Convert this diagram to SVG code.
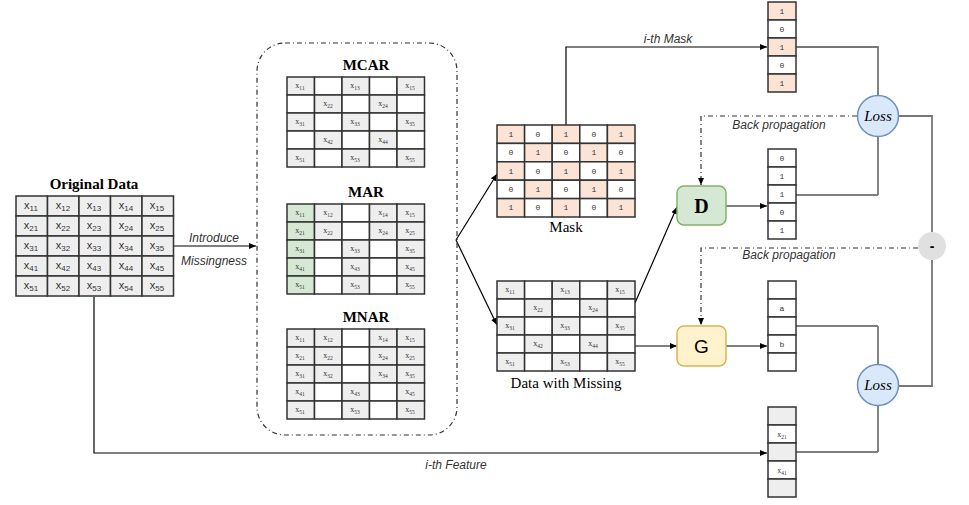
<svg xmlns="http://www.w3.org/2000/svg" width="969" height="505" viewBox="0 0 969 505">
<defs>
<marker id="ah" markerWidth="8" markerHeight="8" refX="7" refY="4" orient="auto" markerUnits="userSpaceOnUse"><path d="M0,1 L7,4 L0,7 Z" fill="#000"/></marker>
<style>
.c{fill:#eeeeee;stroke:#333;stroke-width:1.5}
.e{fill:#ffffff;stroke:#333;stroke-width:1.5}
.g{fill:#d5e8d4;stroke:#333;stroke-width:1.5}
.p{fill:#fbe3d6;stroke:#333;stroke-width:1.5}
.big{font-family:"Liberation Sans",Arial,sans-serif;font-size:11px;fill:#333;text-anchor:middle}
.sm{font-family:"Liberation Serif","Times New Roman",serif;font-size:8px;fill:#333;text-anchor:middle}
.dg{font-family:"Liberation Mono","Courier New",monospace;font-size:8px;fill:#333;text-anchor:middle}
.ttl{font-family:"Liberation Serif","Times New Roman",serif;font-size:15px;font-weight:bold;fill:#000;text-anchor:middle}
.cap{font-family:"Liberation Serif","Times New Roman",serif;font-size:15px;fill:#000;text-anchor:middle}
.lbl{font-family:"Liberation Sans",Arial,sans-serif;font-size:12px;font-style:italic;fill:#333;text-anchor:middle}
.ln{fill:none;stroke:#000;stroke-width:1.2}
.gl{fill:none;stroke:#777;stroke-width:1.8}
.dd{fill:none;stroke:#333;stroke-width:1.2;stroke-dasharray:5 3 1 3}
.loss{fill:#dae8fc;stroke:#6c8ebf;stroke-width:1.5}
.lt{font-family:"Liberation Serif","Times New Roman",serif;font-size:15px;font-style:italic;fill:#000;text-anchor:middle}
</style>
</defs>

<g id="connectors">
<line class="ln" x1="173" y1="246" x2="256" y2="246" marker-end="url(#ah)"/>
<line class="ln" x1="456" y1="240" x2="497" y2="174" marker-end="url(#ah)"/>
<line class="ln" x1="456" y1="240" x2="497" y2="325" marker-end="url(#ah)"/>
<path class="ln" d="M566,125 V47 H767" marker-end="url(#ah)"/>
<line class="ln" x1="635" y1="303" x2="677" y2="207" marker-end="url(#ah)"/>
<line class="ln" x1="635" y1="346" x2="677" y2="346" marker-end="url(#ah)"/>
<line class="ln" x1="726" y1="206" x2="767" y2="206" marker-end="url(#ah)"/>
<line class="ln" x1="726" y1="346" x2="767" y2="346" marker-end="url(#ah)"/>
<path class="ln" d="M94,297 V453 H767" marker-end="url(#ah)"/>
<path class="gl" d="M796,47 H878 V96"/>
<path class="ln" d="M796,195 H878"/>
<path class="gl" d="M878,195 V137"/>
<path class="gl" d="M899,116 H932 V232"/>
<path class="gl" d="M899,386 H932 V260"/>
<path class="ln" d="M796,326 H878"/>
<path class="gl" d="M878,326 V364"/>
<path class="ln" d="M796,452 H878"/>
<path class="gl" d="M878,452 V406"/>
<path class="dd" d="M857,116 H701 V185" marker-end="url(#ah)"/>
<path class="dd" d="M918,248 H701 V325" marker-end="url(#ah)"/>
<text class="lbl" x="214" y="242">Introduce</text>
<text class="lbl" x="214" y="265">Missingness</text>
<text class="lbl" x="668" y="43">i-th Mask</text>
<text class="lbl" x="456" y="469">i-th Feature</text>
<text class="lbl" x="779" y="129">Back propagation</text>
<text class="lbl" x="789" y="259">Back propagation</text>
</g>

<g id="original-data">
<text class="ttl" x="94" y="189">Original Data</text>
<rect class="c" x="16" y="196" width="31.5" height="20"/><rect class="c" x="47.5" y="196" width="31.5" height="20"/><rect class="c" x="79" y="196" width="31.5" height="20"/><rect class="c" x="110.5" y="196" width="31.5" height="20"/><rect class="c" x="142" y="196" width="31.5" height="20"/>
<rect class="c" x="16" y="216" width="31.5" height="20"/><rect class="c" x="47.5" y="216" width="31.5" height="20"/><rect class="c" x="79" y="216" width="31.5" height="20"/><rect class="c" x="110.5" y="216" width="31.5" height="20"/><rect class="c" x="142" y="216" width="31.5" height="20"/>
<rect class="c" x="16" y="236" width="31.5" height="20"/><rect class="c" x="47.5" y="236" width="31.5" height="20"/><rect class="c" x="79" y="236" width="31.5" height="20"/><rect class="c" x="110.5" y="236" width="31.5" height="20"/><rect class="c" x="142" y="236" width="31.5" height="20"/>
<rect class="c" x="16" y="256" width="31.5" height="20"/><rect class="c" x="47.5" y="256" width="31.5" height="20"/><rect class="c" x="79" y="256" width="31.5" height="20"/><rect class="c" x="110.5" y="256" width="31.5" height="20"/><rect class="c" x="142" y="256" width="31.5" height="20"/>
<rect class="c" x="16" y="276" width="31.5" height="20"/><rect class="c" x="47.5" y="276" width="31.5" height="20"/><rect class="c" x="79" y="276" width="31.5" height="20"/><rect class="c" x="110.5" y="276" width="31.5" height="20"/><rect class="c" x="142" y="276" width="31.5" height="20"/>
<text class="big" x="31" y="209">x<tspan font-size="8" dy="2">11</tspan></text><text class="big" x="63" y="209">x<tspan font-size="8" dy="2">12</tspan></text><text class="big" x="94" y="209">x<tspan font-size="8" dy="2">13</tspan></text><text class="big" x="126" y="209">x<tspan font-size="8" dy="2">14</tspan></text><text class="big" x="157" y="209">x<tspan font-size="8" dy="2">15</tspan></text>
<text class="big" x="31" y="229">x<tspan font-size="8" dy="2">21</tspan></text><text class="big" x="63" y="229">x<tspan font-size="8" dy="2">22</tspan></text><text class="big" x="94" y="229">x<tspan font-size="8" dy="2">23</tspan></text><text class="big" x="126" y="229">x<tspan font-size="8" dy="2">24</tspan></text><text class="big" x="157" y="229">x<tspan font-size="8" dy="2">25</tspan></text>
<text class="big" x="31" y="249">x<tspan font-size="8" dy="2">31</tspan></text><text class="big" x="63" y="249">x<tspan font-size="8" dy="2">32</tspan></text><text class="big" x="94" y="249">x<tspan font-size="8" dy="2">33</tspan></text><text class="big" x="126" y="249">x<tspan font-size="8" dy="2">34</tspan></text><text class="big" x="157" y="249">x<tspan font-size="8" dy="2">35</tspan></text>
<text class="big" x="31" y="269">x<tspan font-size="8" dy="2">41</tspan></text><text class="big" x="63" y="269">x<tspan font-size="8" dy="2">42</tspan></text><text class="big" x="94" y="269">x<tspan font-size="8" dy="2">43</tspan></text><text class="big" x="126" y="269">x<tspan font-size="8" dy="2">44</tspan></text><text class="big" x="157" y="269">x<tspan font-size="8" dy="2">45</tspan></text>
<text class="big" x="31" y="289">x<tspan font-size="8" dy="2">51</tspan></text><text class="big" x="63" y="289">x<tspan font-size="8" dy="2">52</tspan></text><text class="big" x="94" y="289">x<tspan font-size="8" dy="2">53</tspan></text><text class="big" x="126" y="289">x<tspan font-size="8" dy="2">54</tspan></text><text class="big" x="157" y="289">x<tspan font-size="8" dy="2">55</tspan></text>
</g>

<g id="missingness-group">
<rect x="257" y="43" width="200" height="392" rx="28" fill="none" stroke="#333" stroke-width="1.2" stroke-dasharray="5 3 1 3"/>
</g>

<g id="mcar">
<text class="ttl" x="366" y="70">MCAR</text>
<rect class="c" x="287" y="77" width="27.5" height="18"/><rect class="e" x="314.5" y="77" width="27.5" height="18"/><rect class="c" x="342" y="77" width="27.5" height="18"/><rect class="e" x="369.5" y="77" width="27.5" height="18"/><rect class="c" x="397" y="77" width="27.5" height="18"/>
<rect class="e" x="287" y="95" width="27.5" height="18"/><rect class="c" x="314.5" y="95" width="27.5" height="18"/><rect class="e" x="342" y="95" width="27.5" height="18"/><rect class="c" x="369.5" y="95" width="27.5" height="18"/><rect class="e" x="397" y="95" width="27.5" height="18"/>
<rect class="c" x="287" y="113" width="27.5" height="18"/><rect class="e" x="314.5" y="113" width="27.5" height="18"/><rect class="c" x="342" y="113" width="27.5" height="18"/><rect class="e" x="369.5" y="113" width="27.5" height="18"/><rect class="c" x="397" y="113" width="27.5" height="18"/>
<rect class="e" x="287" y="131" width="27.5" height="18"/><rect class="c" x="314.5" y="131" width="27.5" height="18"/><rect class="e" x="342" y="131" width="27.5" height="18"/><rect class="c" x="369.5" y="131" width="27.5" height="18"/><rect class="e" x="397" y="131" width="27.5" height="18"/>
<rect class="c" x="287" y="149" width="27.5" height="18"/><rect class="e" x="314.5" y="149" width="27.5" height="18"/><rect class="c" x="342" y="149" width="27.5" height="18"/><rect class="e" x="369.5" y="149" width="27.5" height="18"/><rect class="c" x="397" y="149" width="27.5" height="18"/>
<text class="sm" x="300" y="88">x<tspan font-size="5.5" dy="1.5">11</tspan></text><text class="sm" x="355" y="88">x<tspan font-size="5.5" dy="1.5">13</tspan></text><text class="sm" x="410" y="88">x<tspan font-size="5.5" dy="1.5">15</tspan></text>
<text class="sm" x="328" y="106">x<tspan font-size="5.5" dy="1.5">22</tspan></text><text class="sm" x="383" y="106">x<tspan font-size="5.5" dy="1.5">24</tspan></text>
<text class="sm" x="300" y="124">x<tspan font-size="5.5" dy="1.5">31</tspan></text><text class="sm" x="355" y="124">x<tspan font-size="5.5" dy="1.5">33</tspan></text><text class="sm" x="410" y="124">x<tspan font-size="5.5" dy="1.5">35</tspan></text>
<text class="sm" x="328" y="142">x<tspan font-size="5.5" dy="1.5">42</tspan></text><text class="sm" x="383" y="142">x<tspan font-size="5.5" dy="1.5">44</tspan></text>
<text class="sm" x="300" y="160">x<tspan font-size="5.5" dy="1.5">51</tspan></text><text class="sm" x="355" y="160">x<tspan font-size="5.5" dy="1.5">53</tspan></text><text class="sm" x="410" y="160">x<tspan font-size="5.5" dy="1.5">55</tspan></text>
</g>

<g id="mar">
<text class="ttl" x="366" y="197">MAR</text>
<rect class="g" x="287" y="204" width="27.5" height="18"/><rect class="c" x="314.5" y="204" width="27.5" height="18"/><rect class="e" x="342" y="204" width="27.5" height="18"/><rect class="c" x="369.5" y="204" width="27.5" height="18"/><rect class="c" x="397" y="204" width="27.5" height="18"/>
<rect class="g" x="287" y="222" width="27.5" height="18"/><rect class="c" x="314.5" y="222" width="27.5" height="18"/><rect class="e" x="342" y="222" width="27.5" height="18"/><rect class="c" x="369.5" y="222" width="27.5" height="18"/><rect class="c" x="397" y="222" width="27.5" height="18"/>
<rect class="g" x="287" y="240" width="27.5" height="18"/><rect class="e" x="314.5" y="240" width="27.5" height="18"/><rect class="c" x="342" y="240" width="27.5" height="18"/><rect class="e" x="369.5" y="240" width="27.5" height="18"/><rect class="c" x="397" y="240" width="27.5" height="18"/>
<rect class="g" x="287" y="258" width="27.5" height="18"/><rect class="e" x="314.5" y="258" width="27.5" height="18"/><rect class="c" x="342" y="258" width="27.5" height="18"/><rect class="e" x="369.5" y="258" width="27.5" height="18"/><rect class="c" x="397" y="258" width="27.5" height="18"/>
<rect class="g" x="287" y="276" width="27.5" height="18"/><rect class="e" x="314.5" y="276" width="27.5" height="18"/><rect class="c" x="342" y="276" width="27.5" height="18"/><rect class="e" x="369.5" y="276" width="27.5" height="18"/><rect class="c" x="397" y="276" width="27.5" height="18"/>
<text class="sm" x="300" y="215">x<tspan font-size="5.5" dy="1.5">11</tspan></text><text class="sm" x="328" y="215">x<tspan font-size="5.5" dy="1.5">12</tspan></text><text class="sm" x="383" y="215">x<tspan font-size="5.5" dy="1.5">14</tspan></text><text class="sm" x="410" y="215">x<tspan font-size="5.5" dy="1.5">15</tspan></text>
<text class="sm" x="300" y="233">x<tspan font-size="5.5" dy="1.5">21</tspan></text><text class="sm" x="328" y="233">x<tspan font-size="5.5" dy="1.5">22</tspan></text><text class="sm" x="383" y="233">x<tspan font-size="5.5" dy="1.5">24</tspan></text><text class="sm" x="410" y="233">x<tspan font-size="5.5" dy="1.5">25</tspan></text>
<text class="sm" x="300" y="251">x<tspan font-size="5.5" dy="1.5">31</tspan></text><text class="sm" x="355" y="251">x<tspan font-size="5.5" dy="1.5">33</tspan></text><text class="sm" x="410" y="251">x<tspan font-size="5.5" dy="1.5">35</tspan></text>
<text class="sm" x="300" y="269">x<tspan font-size="5.5" dy="1.5">41</tspan></text><text class="sm" x="355" y="269">x<tspan font-size="5.5" dy="1.5">43</tspan></text><text class="sm" x="410" y="269">x<tspan font-size="5.5" dy="1.5">45</tspan></text>
<text class="sm" x="300" y="287">x<tspan font-size="5.5" dy="1.5">51</tspan></text><text class="sm" x="355" y="287">x<tspan font-size="5.5" dy="1.5">53</tspan></text><text class="sm" x="410" y="287">x<tspan font-size="5.5" dy="1.5">55</tspan></text>
</g>

<g id="mnar">
<text class="ttl" x="366" y="322">MNAR</text>
<rect class="c" x="287" y="329" width="27.5" height="18"/><rect class="c" x="314.5" y="329" width="27.5" height="18"/><rect class="e" x="342" y="329" width="27.5" height="18"/><rect class="c" x="369.5" y="329" width="27.5" height="18"/><rect class="c" x="397" y="329" width="27.5" height="18"/>
<rect class="c" x="287" y="347" width="27.5" height="18"/><rect class="c" x="314.5" y="347" width="27.5" height="18"/><rect class="e" x="342" y="347" width="27.5" height="18"/><rect class="c" x="369.5" y="347" width="27.5" height="18"/><rect class="c" x="397" y="347" width="27.5" height="18"/>
<rect class="c" x="287" y="365" width="27.5" height="18"/><rect class="c" x="314.5" y="365" width="27.5" height="18"/><rect class="e" x="342" y="365" width="27.5" height="18"/><rect class="c" x="369.5" y="365" width="27.5" height="18"/><rect class="c" x="397" y="365" width="27.5" height="18"/>
<rect class="c" x="287" y="383" width="27.5" height="18"/><rect class="e" x="314.5" y="383" width="27.5" height="18"/><rect class="c" x="342" y="383" width="27.5" height="18"/><rect class="e" x="369.5" y="383" width="27.5" height="18"/><rect class="c" x="397" y="383" width="27.5" height="18"/>
<rect class="c" x="287" y="401" width="27.5" height="18"/><rect class="e" x="314.5" y="401" width="27.5" height="18"/><rect class="c" x="342" y="401" width="27.5" height="18"/><rect class="e" x="369.5" y="401" width="27.5" height="18"/><rect class="c" x="397" y="401" width="27.5" height="18"/>
<text class="sm" x="300" y="340">x<tspan font-size="5.5" dy="1.5">11</tspan></text><text class="sm" x="328" y="340">x<tspan font-size="5.5" dy="1.5">12</tspan></text><text class="sm" x="383" y="340">x<tspan font-size="5.5" dy="1.5">14</tspan></text><text class="sm" x="410" y="340">x<tspan font-size="5.5" dy="1.5">15</tspan></text>
<text class="sm" x="300" y="358">x<tspan font-size="5.5" dy="1.5">21</tspan></text><text class="sm" x="328" y="358">x<tspan font-size="5.5" dy="1.5">22</tspan></text><text class="sm" x="383" y="358">x<tspan font-size="5.5" dy="1.5">24</tspan></text><text class="sm" x="410" y="358">x<tspan font-size="5.5" dy="1.5">25</tspan></text>
<text class="sm" x="300" y="376">x<tspan font-size="5.5" dy="1.5">31</tspan></text><text class="sm" x="328" y="376">x<tspan font-size="5.5" dy="1.5">32</tspan></text><text class="sm" x="383" y="376">x<tspan font-size="5.5" dy="1.5">34</tspan></text><text class="sm" x="410" y="376">x<tspan font-size="5.5" dy="1.5">35</tspan></text>
<text class="sm" x="300" y="394">x<tspan font-size="5.5" dy="1.5">41</tspan></text><text class="sm" x="355" y="394">x<tspan font-size="5.5" dy="1.5">43</tspan></text><text class="sm" x="410" y="394">x<tspan font-size="5.5" dy="1.5">45</tspan></text>
<text class="sm" x="300" y="412">x<tspan font-size="5.5" dy="1.5">51</tspan></text><text class="sm" x="355" y="412">x<tspan font-size="5.5" dy="1.5">53</tspan></text><text class="sm" x="410" y="412">x<tspan font-size="5.5" dy="1.5">55</tspan></text>
</g>

<g id="mask">
<rect class="p" x="497" y="125" width="27.6" height="18.4"/><rect class="e" x="524.6" y="125" width="27.6" height="18.4"/><rect class="p" x="552.2" y="125" width="27.6" height="18.4"/><rect class="e" x="579.8" y="125" width="27.6" height="18.4"/><rect class="p" x="607.4" y="125" width="27.6" height="18.4"/>
<rect class="e" x="497" y="143.4" width="27.6" height="18.4"/><rect class="p" x="524.6" y="143.4" width="27.6" height="18.4"/><rect class="e" x="552.2" y="143.4" width="27.6" height="18.4"/><rect class="p" x="579.8" y="143.4" width="27.6" height="18.4"/><rect class="e" x="607.4" y="143.4" width="27.6" height="18.4"/>
<rect class="p" x="497" y="161.8" width="27.6" height="18.4"/><rect class="e" x="524.6" y="161.8" width="27.6" height="18.4"/><rect class="p" x="552.2" y="161.8" width="27.6" height="18.4"/><rect class="e" x="579.8" y="161.8" width="27.6" height="18.4"/><rect class="p" x="607.4" y="161.8" width="27.6" height="18.4"/>
<rect class="e" x="497" y="180.2" width="27.6" height="18.4"/><rect class="p" x="524.6" y="180.2" width="27.6" height="18.4"/><rect class="e" x="552.2" y="180.2" width="27.6" height="18.4"/><rect class="p" x="579.8" y="180.2" width="27.6" height="18.4"/><rect class="e" x="607.4" y="180.2" width="27.6" height="18.4"/>
<rect class="p" x="497" y="198.6" width="27.6" height="18.4"/><rect class="e" x="524.6" y="198.6" width="27.6" height="18.4"/><rect class="p" x="552.2" y="198.6" width="27.6" height="18.4"/><rect class="e" x="579.8" y="198.6" width="27.6" height="18.4"/><rect class="p" x="607.4" y="198.6" width="27.6" height="18.4"/>
<text class="dg" x="511" y="137">1</text><text class="dg" x="538" y="137">0</text><text class="dg" x="566" y="137">1</text><text class="dg" x="594" y="137">0</text><text class="dg" x="621" y="137">1</text>
<text class="dg" x="511" y="155">0</text><text class="dg" x="538" y="155">1</text><text class="dg" x="566" y="155">0</text><text class="dg" x="594" y="155">1</text><text class="dg" x="621" y="155">0</text>
<text class="dg" x="511" y="174">1</text><text class="dg" x="538" y="174">0</text><text class="dg" x="566" y="174">1</text><text class="dg" x="594" y="174">0</text><text class="dg" x="621" y="174">1</text>
<text class="dg" x="511" y="192">0</text><text class="dg" x="538" y="192">1</text><text class="dg" x="566" y="192">0</text><text class="dg" x="594" y="192">1</text><text class="dg" x="621" y="192">0</text>
<text class="dg" x="511" y="210">1</text><text class="dg" x="538" y="210">0</text><text class="dg" x="566" y="210">1</text><text class="dg" x="594" y="210">0</text><text class="dg" x="621" y="210">1</text>
<text class="cap" x="566" y="232">Mask</text>
</g>

<g id="data-with-missing">
<rect class="c" x="497" y="281" width="27.6" height="18"/><rect class="e" x="524.6" y="281" width="27.6" height="18"/><rect class="c" x="552.2" y="281" width="27.6" height="18"/><rect class="e" x="579.8" y="281" width="27.6" height="18"/><rect class="c" x="607.4" y="281" width="27.6" height="18"/>
<rect class="e" x="497" y="299" width="27.6" height="18"/><rect class="c" x="524.6" y="299" width="27.6" height="18"/><rect class="e" x="552.2" y="299" width="27.6" height="18"/><rect class="c" x="579.8" y="299" width="27.6" height="18"/><rect class="e" x="607.4" y="299" width="27.6" height="18"/>
<rect class="c" x="497" y="317" width="27.6" height="18"/><rect class="e" x="524.6" y="317" width="27.6" height="18"/><rect class="c" x="552.2" y="317" width="27.6" height="18"/><rect class="e" x="579.8" y="317" width="27.6" height="18"/><rect class="c" x="607.4" y="317" width="27.6" height="18"/>
<rect class="e" x="497" y="335" width="27.6" height="18"/><rect class="c" x="524.6" y="335" width="27.6" height="18"/><rect class="e" x="552.2" y="335" width="27.6" height="18"/><rect class="c" x="579.8" y="335" width="27.6" height="18"/><rect class="e" x="607.4" y="335" width="27.6" height="18"/>
<rect class="c" x="497" y="353" width="27.6" height="18"/><rect class="e" x="524.6" y="353" width="27.6" height="18"/><rect class="c" x="552.2" y="353" width="27.6" height="18"/><rect class="e" x="579.8" y="353" width="27.6" height="18"/><rect class="c" x="607.4" y="353" width="27.6" height="18"/>
<text class="sm" x="510" y="292">x<tspan font-size="5.5" dy="1.5">11</tspan></text><text class="sm" x="565" y="292">x<tspan font-size="5.5" dy="1.5">13</tspan></text><text class="sm" x="620" y="292">x<tspan font-size="5.5" dy="1.5">15</tspan></text>
<text class="sm" x="538" y="310">x<tspan font-size="5.5" dy="1.5">22</tspan></text><text class="sm" x="593" y="310">x<tspan font-size="5.5" dy="1.5">24</tspan></text>
<text class="sm" x="510" y="328">x<tspan font-size="5.5" dy="1.5">31</tspan></text><text class="sm" x="565" y="328">x<tspan font-size="5.5" dy="1.5">33</tspan></text><text class="sm" x="620" y="328">x<tspan font-size="5.5" dy="1.5">35</tspan></text>
<text class="sm" x="538" y="346">x<tspan font-size="5.5" dy="1.5">42</tspan></text><text class="sm" x="593" y="346">x<tspan font-size="5.5" dy="1.5">44</tspan></text>
<text class="sm" x="510" y="364">x<tspan font-size="5.5" dy="1.5">51</tspan></text><text class="sm" x="565" y="364">x<tspan font-size="5.5" dy="1.5">53</tspan></text><text class="sm" x="620" y="364">x<tspan font-size="5.5" dy="1.5">55</tspan></text>
<text class="cap" x="566" y="388">Data with Missing</text>
</g>

<g id="mask-vector">
<rect class="p" x="768" y="2" width="28" height="18"/><rect class="e" x="768" y="20" width="28" height="18"/><rect class="p" x="768" y="38" width="28" height="18"/><rect class="e" x="768" y="56" width="28" height="18"/><rect class="p" x="768" y="74" width="28" height="18"/>
<text class="dg" x="782" y="14">1</text><text class="dg" x="782" y="32">0</text><text class="dg" x="782" y="50">1</text><text class="dg" x="782" y="68">0</text><text class="dg" x="782" y="86">1</text>
</g>

<g id="d-output">
<rect class="e" x="768" y="149" width="28" height="18"/><rect class="e" x="768" y="167" width="28" height="18"/><rect class="e" x="768" y="185" width="28" height="18"/><rect class="e" x="768" y="203" width="28" height="18"/><rect class="e" x="768" y="221" width="28" height="18"/>
<text class="dg" x="782" y="161">0</text><text class="dg" x="782" y="179">1</text><text class="dg" x="782" y="197">1</text><text class="dg" x="782" y="215">0</text><text class="dg" x="782" y="233">1</text>
</g>

<g id="g-output">
<rect class="e" x="768" y="281" width="28" height="18"/><rect class="e" x="768" y="299" width="28" height="18"/><rect class="e" x="768" y="317" width="28" height="18"/><rect class="e" x="768" y="335" width="28" height="18"/><rect class="e" x="768" y="353" width="28" height="18"/>
<text class="dg" x="782" y="311">a</text><text class="dg" x="782" y="347">b</text>
</g>

<g id="feature-vector">
<rect class="c" x="768" y="407" width="28" height="18"/><rect class="e" x="768" y="425" width="28" height="18"/><rect class="c" x="768" y="443" width="28" height="18"/><rect class="e" x="768" y="461" width="28" height="18"/><rect class="c" x="768" y="479" width="28" height="18"/>
<text class="sm" x="782" y="437">x<tspan font-size="5.5" dy="1.5">21</tspan></text><text class="sm" x="782" y="473">x<tspan font-size="5.5" dy="1.5">41</tspan></text>
</g>

<g id="D">
<rect x="677" y="186" width="49" height="39" rx="7" fill="#d5e8d4" stroke="#82b366" stroke-width="1.5"/>
<text x="701.5" y="213" font-family="Liberation Serif, Times New Roman, serif" font-size="20" font-weight="bold" text-anchor="middle">D</text>
</g>

<g id="G">
<rect x="677" y="326" width="49" height="40" rx="7" fill="#fff2cc" stroke="#d6b656" stroke-width="1.5"/>
<text x="701.5" y="353" font-family="Liberation Sans, Arial, sans-serif" font-size="19" text-anchor="middle">G</text>
</g>

<g id="loss-d">
<circle class="loss" cx="878" cy="116" r="20.5"/>
<text class="lt" x="878" y="121">Loss</text>
</g>

<g id="loss-g">
<circle class="loss" cx="878" cy="385" r="20.5"/>
<text class="lt" x="878" y="390">Loss</text>
</g>

<g id="minus">
<circle cx="932" cy="246" r="14" fill="#e0e0e0"/>
<text x="932" y="251" font-family="Liberation Sans, Arial, sans-serif" font-size="14" font-weight="bold" text-anchor="middle">-</text>
</g>
</svg>
